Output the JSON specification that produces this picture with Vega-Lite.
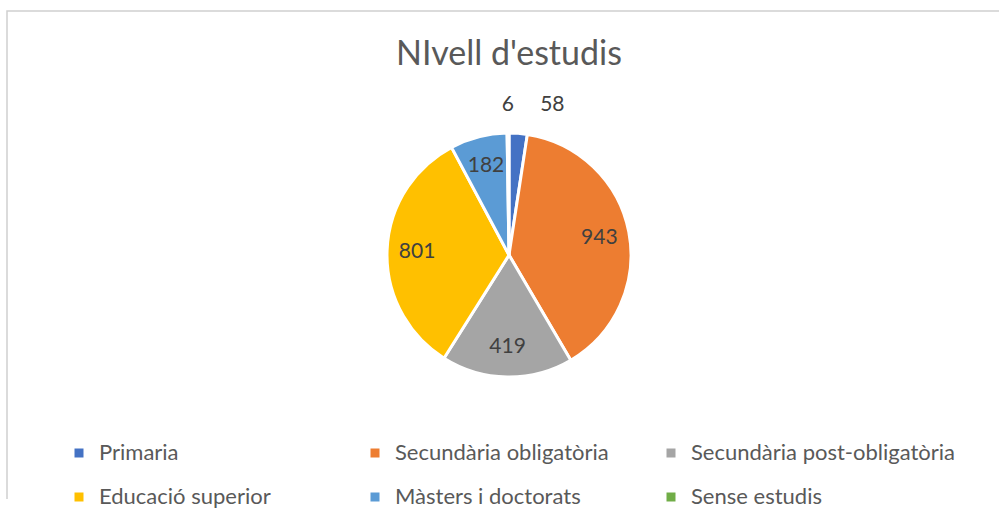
{
  "$schema": "https://vega.github.io/schema/vega-lite/v6.json",
  "autosize": {"type": "none"},
  "width": 1004,
  "height": 488,
  "padding": {"left": 7, "top": 11, "right": 0, "bottom": 26},
  "background": "white",
  "view": {"style": "cell", "stroke": "#d0d0d0", "strokeWidth": 1.5, "strokeDash": [1492, 1004, 500, 1]},
  "config": {
    "view": {"stroke": "#d0d0d0", "strokeWidth": 1.5, "strokeDash": [1492, 1004, 500, 1]},
    "font": "Lato"
  },
  "title": {
    "text": "NIvell d'estudis",
    "font": "Lato",
    "fontSize": 34,
    "fontWeight": "normal",
    "color": "#595959",
    "anchor": "middle",
    "baseline": "alphabetic",
    "offset": 0,
    "dy": 88
  },
  "data": {
    "values": [
      {"nivell": "Primaria", "valor": 58, "ordre": 1},
      {"nivell": "Secundària obligatòria", "valor": 943, "ordre": 2},
      {"nivell": "Secundària post-obligatòria", "valor": 419, "ordre": 3},
      {"nivell": "Educació superior", "valor": 801, "ordre": 4},
      {"nivell": "Màsters i doctorats", "valor": 182, "ordre": 5},
      {"nivell": "Sense estudis", "valor": 6, "ordre": 6}
    ]
  },
  "encoding": {
    "theta": {"field": "valor", "type": "quantitative", "stack": true},
    "order": {"field": "ordre", "type": "quantitative"}
  },
  "layer": [
    {
      "mark": {"type": "arc", "outerRadius": 122, "stroke": "white", "strokeWidth": 3},
      "encoding": {
        "color": {
          "field": "nivell",
          "type": "nominal",
          "scale": {
            "domain": ["Primaria", "Secundària obligatòria", "Secundària post-obligatòria", "Educació superior", "Màsters i doctorats", "Sense estudis"],
            "range": ["#4472C4", "#ED7D31", "#A5A5A5", "#FFC000", "#5B9BD5", "#70AD47"]
          },
          "legend": {
            "orient": "none",
            "legendX": 61,
            "legendY": 431,
            "direction": "horizontal",
            "columns": 3,
            "gridAlign": "all",
            "title": null,
            "symbolType": "square",
            "symbolSize": 81,
            "symbolStrokeWidth": 0,
            "labelFont": "Lato",
            "labelFontSize": 22,
            "labelColor": "#595959",
            "labelOffset": 9,
            "columnPadding": -1,
            "rowPadding": 22,
            "labelLimit": 400
          }
        }
      }
    },
    {
      "mark": {"type": "text", "radius": 92, "fontSize": 21, "font": "Lato", "color": "#404040"},
      "encoding": {
        "detail": {"field": "nivell", "type": "nominal"},
        "text": {"condition": {"test": "datum.valor > 100", "field": "valor", "type": "quantitative"}, "value": ""}
      }
    },
    {
      "mark": {"type": "text", "radius": 150, "fontSize": 21, "font": "Lato", "color": "#404040"},
      "encoding": {
        "detail": {"field": "nivell", "type": "nominal"},
        "text": {"condition": {"test": "datum.nivell == 'Sense estudis'", "field": "valor", "type": "quantitative"}, "value": ""}
      }
    },
    {
      "mark": {"type": "text", "radius": 150, "dx": 32, "fontSize": 21, "font": "Lato", "color": "#404040"},
      "encoding": {
        "detail": {"field": "nivell", "type": "nominal"},
        "text": {"condition": {"test": "datum.nivell == 'Primaria'", "field": "valor", "type": "quantitative"}, "value": ""}
      }
    }
  ]
}
